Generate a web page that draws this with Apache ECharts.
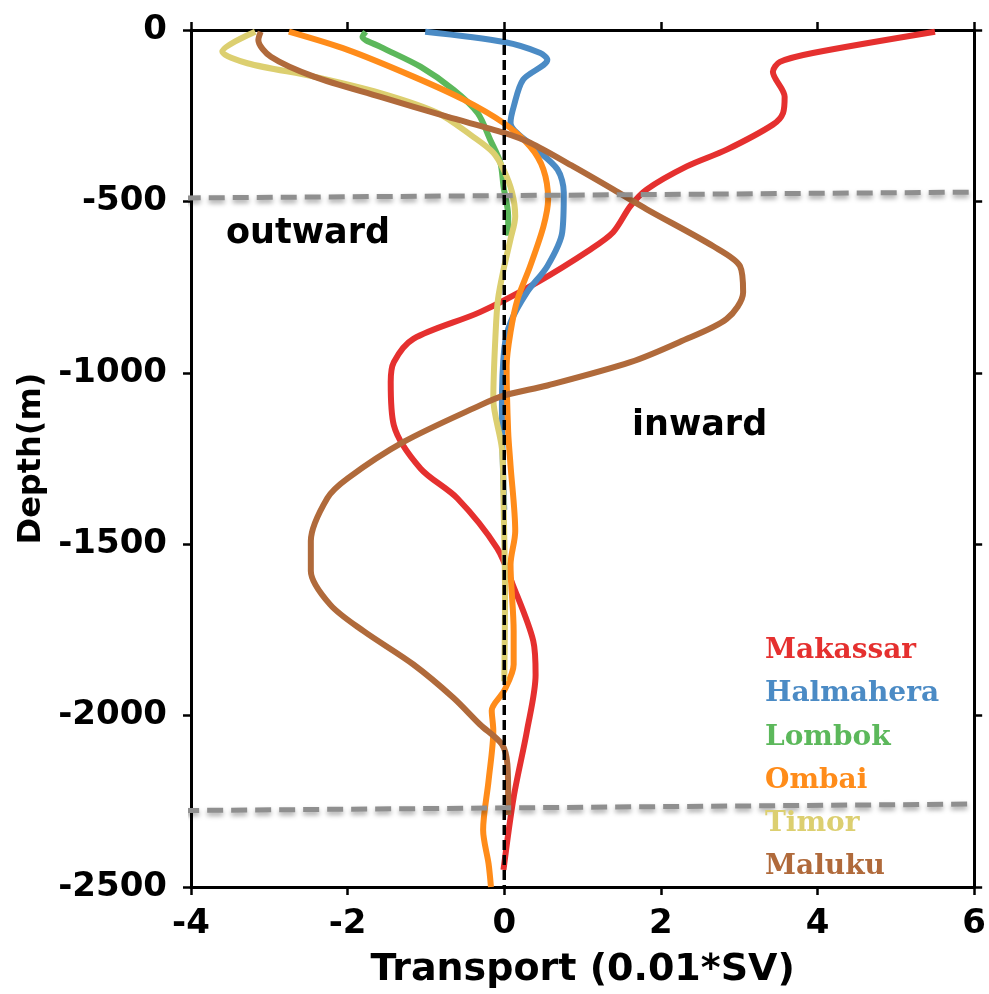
<!DOCTYPE html>
<html>
<head>
<meta charset="utf-8">
<script src="https://cdn.jsdelivr.net/npm/echarts@6/dist/echarts.min.js"></script>
<style>
  html, body { margin: 0; padding: 0; background: #fff; }
  #chart { width: 989px; height: 994px; }
</style>
</head>
<body>
<div id="chart"></div>
<script>
const chart = echarts.init(document.getElementById('chart'));

const straitNames = ['Makassar', 'Halmahera', 'Lombok', 'Ombai', 'Timor', 'Maluku'];
const straitColors = ['#e5302f', '#4b8bc5', '#5cb85b', '#ff8c1a', '#dccf70', '#b06a3b'];

// depth (m) and transport (0.01*SV)
const makassarDepth = [-5, -67, -93, -122, -195, -242, -276, -349, -398, -465, -514, -590, -640, -736, -823, -901, -969, -1027, -1153, -1279, -1366, -1512, -1619, -1782, -1881, -2044, -2238, -2450];
const makassarFlow = [5.50, 3.94, 3.52, 3.43, 3.58, 3.56, 3.43, 2.84, 2.33, 1.82, 1.61, 1.39, 1.10, 0.42, -0.31, -1.16, -1.41, -1.45, -1.41, -1.07, -0.60, -0.09, 0.11, 0.37, 0.40, 0.29, 0.12, -0.01];

const halmaheraDepth = [-5, -35, -67, -87, -145, -224, -271, -340, -407, -474, -590, -689, -765, -853, -930, -1100, -1250, -1400];
const halmaheraFlow = [-1.01, 0.00, 0.46, 0.55, 0.24, 0.12, 0.08, 0.37, 0.68, 0.76, 0.74, 0.55, 0.29, 0.08, 0.00, -0.03, -0.02, 0.00];

const lombokDepth = [-5, -20, -49, -107, -174, -242, -320, -387, -456, -543, -600];
const lombokFlow = [-1.77, -1.81, -1.58, -1.07, -0.65, -0.34, -0.18, -0.05, -0.01, 0.05, 0.05];

const ombaiDepth = [-5, -58, -136, -203, -271, -340, -407, -494, -573, -689, -785, -881, -980, -1172, -1270, -1462, -1560, -1753, -1851, -1927, -1985, -2044, -2189, -2334, -2433, -2500];
const ombaiFlow = [-2.75, -2.00, -1.16, -0.52, -0.01, 0.33, 0.50, 0.56, 0.50, 0.33, 0.17, 0.08, 0.03, 0.05, 0.08, 0.14, 0.08, 0.12, 0.12, 0.00, -0.16, -0.14, -0.20, -0.27, -0.20, -0.17];

const timorDepth = [-5, -63, -97, -136, -184, -242, -311, -358, -407, -474, -543, -610, -689, -785, -881, -1076, -1221, -1366, -1657, -1900];
const timorFlow = [-3.18, -3.60, -3.28, -2.43, -1.58, -0.85, -0.40, -0.14, -0.01, 0.10, 0.14, 0.08, 0.00, -0.08, -0.11, -0.14, -0.03, -0.01, 0.01, 0.00];

const malukuDepth = [-5, -29, -78, -136, -195, -253, -300, -329, -398, -465, -523, -631, -689, -765, -843, -910, -969, -1037, -1066, -1095, -1201, -1308, -1366, -1491, -1578, -1677, -1753, -1851, -1948, -2026, -2084, -2142, -2238, -2290];
const malukuFlow = [-3.11, -3.14, -2.98, -2.43, -1.58, -0.73, 0.00, 0.33, 0.88, 1.39, 1.82, 2.67, 3.01, 3.05, 2.84, 2.24, 1.61, 0.55, 0.00, -0.31, -1.28, -2.00, -2.26, -2.47, -2.47, -2.22, -1.80, -1.16, -0.65, -0.31, -0.03, 0.04, 0.05, 0.05];

// gray dashed layer boundaries (slightly tilted in the original)
const upperBoundary = [[-4.08, -490], [6.0, -473]];
const lowerBoundary = [[-4.10, -2277], [6.0, -2258]];
const zeroLine = [[0, 0], [0, -2500]];

const depths = [makassarDepth, halmaheraDepth, lombokDepth, ombaiDepth, timorDepth, malukuDepth];
const flows = [makassarFlow, halmaheraFlow, lombokFlow, ombaiFlow, timorFlow, malukuFlow];

const curveSeries = straitNames.map((name, i) => ({
  name: name,
  type: 'line',
  smooth: 0.3,
  showSymbol: false,
  data: depths[i].map((d, j) => [flows[i][j], d]),
  lineStyle: { color: straitColors[i], width: 6 },
  z: 3
}));

const boundaryStyle = {
  color: '#8f8f8f', width: 5, type: [16, 8],
  shadowColor: 'rgba(0,0,0,0.35)', shadowBlur: 5, shadowOffsetY: 3
};

const sans = 'DejaVu Sans';
const serif = 'DejaVu Serif';

const frameLine = { onZero: false, lineStyle: { color: '#000', width: 3 } };
const frameTick = { length: 8, lineStyle: { color: '#000', width: 2.5 } };

chart.setOption({
  animation: false,
  grid: { left: 191, right: 14, top: 30, bottom: 104 },
  xAxis: [{
    type: 'value', min: -4, max: 6, interval: 2,
    name: 'Transport (0.01*SV)', nameLocation: 'middle', nameGap: 64,
    nameTextStyle: { fontFamily: sans, fontWeight: 'bold', fontSize: 38, color: '#000' },
    axisLine: frameLine,
    axisTick: frameTick,
    axisLabel: { margin: 20, fontFamily: sans, fontWeight: 'bold', fontSize: 34, color: '#000' },
    splitLine: { show: false }
  }, {
    type: 'value', position: 'top', min: -4, max: 6, interval: 2,
    axisLine: frameLine,
    axisTick: frameTick,
    axisLabel: { show: false },
    splitLine: { show: false }
  }],
  yAxis: [{
    type: 'value', min: -2500, max: 0, interval: 500,
    name: 'Depth(m)', nameLocation: 'middle', nameGap: 138, nameRotate: 90,
    nameTextStyle: { fontFamily: sans, fontWeight: 'bold', fontSize: 32, color: '#000' },
    axisLine: frameLine,
    axisTick: frameTick,
    axisLabel: {
      margin: 24, fontFamily: sans, fontWeight: 'bold', fontSize: 34, color: '#000',
      formatter: v => String(v)
    },
    splitLine: { show: false }
  }, {
    type: 'value', position: 'right', min: -2500, max: 0, interval: 500,
    axisLine: frameLine,
    axisTick: frameTick,
    axisLabel: { show: false },
    splitLine: { show: false }
  }],
  series: [
    ...curveSeries,
    {
      type: 'line', showSymbol: false, silent: true, clip: false,
      data: upperBoundary, lineStyle: boundaryStyle, z: 4
    },
    {
      type: 'line', showSymbol: false, silent: true, clip: false,
      data: lowerBoundary, lineStyle: boundaryStyle, z: 4
    },
    {
      type: 'line', showSymbol: false, silent: true,
      data: zeroLine, lineStyle: { color: '#000', width: 3.5, type: [10, 5] }, z: 5
    }
  ],
  graphic: [
    { type: 'text', left: 226, top: 216, style: { text: 'outward', fontFamily: sans, fontWeight: 'bold', fontSize: 35, fill: '#000' } },
    { type: 'text', left: 632, top: 408, style: { text: 'inward', fontFamily: sans, fontWeight: 'bold', fontSize: 35, fill: '#000' } },
    ...straitNames.map((name, i) => ({
      type: 'text', left: 765, top: 637 + i * 43.2,
      style: { text: name, fontFamily: serif, fontWeight: 'bold', fontSize: 28, fill: straitColors[i] },
      z: 10
    }))
  ]
});
</script>
</body>
</html>
